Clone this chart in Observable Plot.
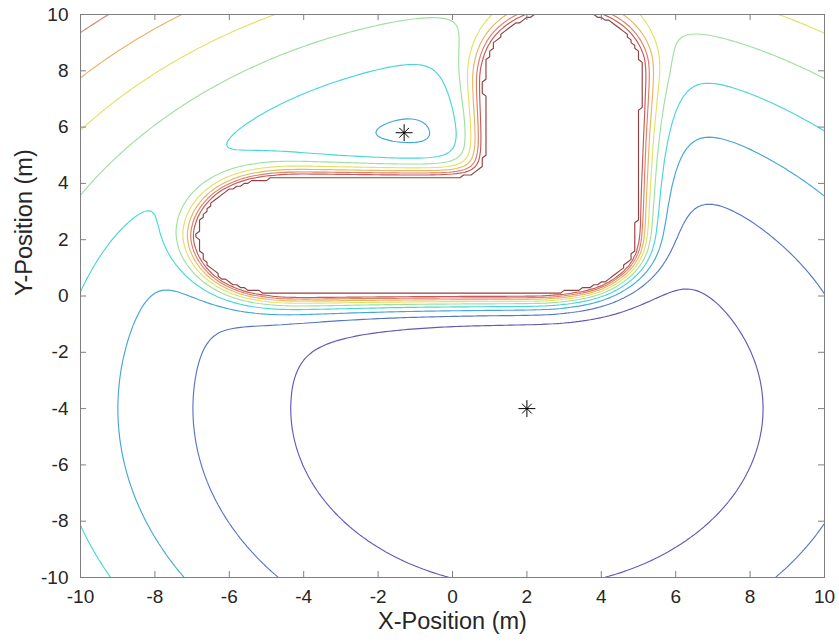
<!DOCTYPE html>
<html>
<head>
<meta charset="utf-8">
<script src="https://cdn.jsdelivr.net/npm/d3@7"></script>
<script src="https://cdn.jsdelivr.net/npm/@observablehq/plot@0.6"></script>
<style>
  body { margin: 0; background: #fff; }
  #chart svg { font-family: "Liberation Sans", Arial, Helvetica, sans-serif; display: block; }
</style>
</head>
<body>
<div id="chart"></div>
<script>
// ---- values ----
const xTicks = [-10, -8, -6, -4, -2, 0, 2, 4, 6, 8, 10];
const yTicks = [-10, -8, -6, -4, -2, 0, 2, 4, 6, 8, 10];
const markers = [{x: -1.3, y: 5.8}, {x: 2, y: -4}];      // start (local minimum) and goal
const goal = [2, -4];
const obstacleSpine = [[-4.82, 2.1], [2.99, 2.1], [2.99, 7.96]]; // centre line of the L-shaped obstacle
const obstacleHalfWidth = [1.9];
const levels = [1, 2, 3, 4, 5, 6, 7, 8, 9, 10];
const levelColors = ["#6259b8", "#5676c8", "#46a6d6", "#4ad6d6", "#9fe0a0",
                     "#e2e266", "#e8b466", "#de8066", "#c45a5a", "#934040"];
const fieldParams = [40.3, 25, 0.43, 10, 0.1]; // m² per level, repulsive strength, repulsive range (m), cap, grid step (m)

// ---- potential field sampled on a grid (the library contours it) ----
const [attSpread, repStrength, repRange, cap, step] = fieldParams;
const n = Math.round(20 / step) + 1;
function segDist(px, py, a, b) {
  const dx = b[0] - a[0], dy = b[1] - a[1];
  let t = ((px - a[0]) * dx + (py - a[1]) * dy) / (dx * dx + dy * dy);
  t = Math.max(0, Math.min(1, t));
  return Math.hypot(px - a[0] - t * dx, py - a[1] - t * dy);
}
function besselK0(x) {
  if (x <= 2) {
    const t2 = (x / 3.75) ** 2;
    const i0 = 1 + t2 * (3.5156229 + t2 * (3.0899424 + t2 * (1.2067492 + t2 * (0.2659732 + t2 * (0.0360768 + t2 * 0.0045813)))));
    const y = x * x / 4;
    return -Math.log(x / 2) * i0 + (-0.57721566 + y * (0.42278420 + y * (0.23069756 + y * (0.03488590 + y * (0.00262698 + y * (0.00010750 + y * 0.0000074))))));
  }
  const y = 2 / x;
  return Math.exp(-x) / Math.sqrt(x) * (1.25331414 + y * (-0.07832358 + y * (0.02189568 + y * (-0.01062446 + y * (0.00587872 + y * (-0.00251540 + y * 0.00053208))))));
}
const mask = new Uint8Array(n * n);
for (let j = 0; j < n; ++j) for (let i = 0; i < n; ++i) {
  const x = -10 + i * step, y = -10 + j * step;
  let d = Infinity;
  for (let k = 0; k < obstacleSpine.length - 1; ++k) d = Math.min(d, segDist(x, y, obstacleSpine[k], obstacleSpine[k + 1]));
  mask[j * n + i] = d <= obstacleHalfWidth[0] ? 1 : 0;
}
// isotropic screened kernel (its profile across a straight edge is exponential)
const R = Math.ceil(8 * repRange / step), W = 2 * R + 1;
const kern = new Float64Array(W * W);
let ksum = 0;
for (let dy = -R; dy <= R; ++dy) for (let dx = -R; dx <= R; ++dx) {
  const r = Math.hypot(dx, dy);
  let v = 0;
  if (r === 0) {
    for (let a = 0; a < 10; ++a) for (let b = 0; b < 10; ++b)
      v += besselK0(Math.hypot((a + 0.5) / 10 - 0.5, (b + 0.5) / 10 - 0.5) * step / repRange) / 100;
  } else if (r <= R) v = besselK0(r * step / repRange);
  kern[(dy + R) * W + dx + R] = v;
  ksum += v;
}
const conv = new Float64Array(n * n);
for (let j = 0; j < n; ++j) for (let i = 0; i < n; ++i) {
  if (!mask[j * n + i]) continue;
  for (let dy = -R; dy <= R; ++dy) {
    const jj = j + dy; if (jj < 0 || jj >= n) continue;
    const row = jj * n, krow = (dy + R) * W + R;
    for (let dx = -R; dx <= R; ++dx) {
      const ii = i + dx; if (ii < 0 || ii >= n) continue;
      conv[row + ii] += kern[krow + dx];
    }
  }
}
const U = new Array(n * n);
for (let j = 0; j < n; ++j) for (let i = 0; i < n; ++i) {
  const x = -10 + i * step, y = -10 + j * step;
  const att = ((x - goal[0]) ** 2 + (y - goal[1]) ** 2) / attSpread;
  let v = att + repStrength * conv[j * n + i] / ksum;
  if (mask[j * n + i]) v = cap;
  U[j * n + i] = Math.min(v, cap);
}

const grid = {width: n, height: n, x1: -10 - step / 2, x2: 10 + step / 2, y1: -10 - step / 2, y2: 10 + step / 2};
const axisGray = "#7f7f7f";
const textColor = "#262626";

const chart = Plot.plot({
  width: 839,
  height: 643,
  marginLeft: 80,
  marginRight: 15,
  marginTop: 14,
  marginBottom: 66,
  x: {domain: [-10, 10]},
  y: {domain: [-10, 10]},
  marks: [
    ...levels.map((lv, i) => Plot.contour(U, {
      ...grid, thresholds: [lv], stroke: levelColors[i], strokeWidth: 1.15, fill: "none", clip: true
    })),
    Plot.dot(markers, {x: "x", y: "y", symbol: "plus", r: 5.5, stroke: "black", strokeWidth: 1}),
    Plot.dot(markers, {x: "x", y: "y", symbol: "times", r: 4.5, stroke: "black", strokeWidth: 1}),
    Plot.frame({stroke: axisGray}),
    Plot.ruleX(xTicks, {x: d => d, y1: -10, y2: -10, insetBottom: 6, stroke: axisGray}),
    Plot.ruleX(xTicks, {x: d => d, y1: 10, y2: 10, insetTop: 6, stroke: axisGray}),
    Plot.ruleY(yTicks, {y: d => d, x1: -10, x2: -10, insetLeft: 6, stroke: axisGray}),
    Plot.ruleY(yTicks, {y: d => d, x1: 10, x2: 10, insetRight: 6, stroke: axisGray}),
    Plot.axisX(xTicks, {tickSize: 0, tickPadding: 12, fontSize: 19, color: textColor, tickFormat: d => String(d), label: null}),
    Plot.axisY(yTicks, {tickSize: 0, tickPadding: 12, fontSize: 19, color: textColor, tickFormat: d => String(d), label: null}),
    Plot.text(["X-Position (m)"], {text: d => d, frameAnchor: "bottom", dy: 51, fontSize: 23.5, fill: textColor}),
    Plot.text(["Y-Position (m)"], {text: d => d, frameAnchor: "left", dx: -56, rotate: -90, fontSize: 23.5, fill: textColor})
  ]
});
document.getElementById("chart").appendChild(chart);
</script>
</body>
</html>
